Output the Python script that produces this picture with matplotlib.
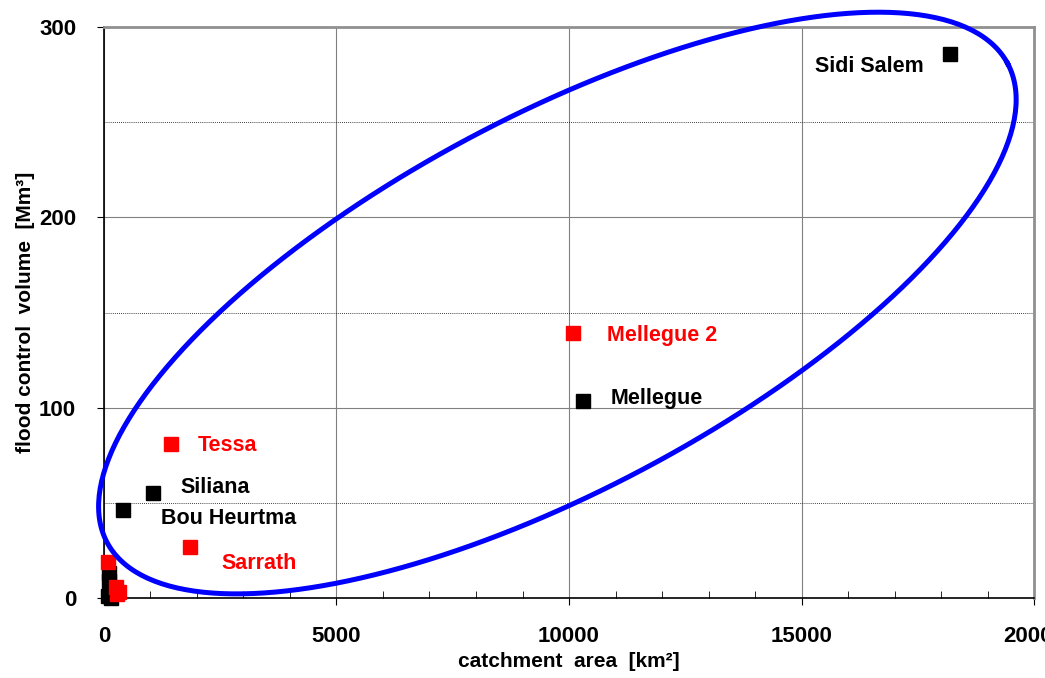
import numpy as np
import matplotlib
matplotlib.use("Agg")
import matplotlib.pyplot as plt
from matplotlib.ticker import MultipleLocator

plt.rcParams['font.family'] = ['Liberation Sans', 'DejaVu Sans']
plt.rcParams['font.weight'] = 'bold'

# named dams (catchment area km2, flood control volume Mm3)
black_names = ['Sidi Salem', 'Mellegue', 'Siliana', 'Bou Heurtma']
black_area = [18200, 10300, 1050, 410]
black_vol = [286, 103.5, 55, 46]

red_names = ['Mellegue 2', 'Tessa', 'Sarrath']
red_area = [10090, 1440, 1850]
red_vol = [139, 81, 27]

# small unnamed dams near origin
small_black_area = [100, 110, 90, 150]
small_black_vol = [13, 9, 1, 0]
small_red_area = [80, 250, 320, 290]
small_red_vol = [19, 6, 3, 2]

# label offsets in pixels (dx, dy, ha)
black_offsets = [(-27, -13, 'right'), (28, 3, 'left'), (28, 6, 'left'), (38, -8, 'left')]
red_offsets = [(34, -2, 'left'), (27, -2, 'left'), (31, -17, 'left')]

# highlight ellipse (centre in data units, axes in pixels, angle deg)
ell_cx, ell_cy = 9750, 155
ell_a, ell_b, ell_ang = 510, 187, 28

fig = plt.figure(figsize=(10.45, 6.78), dpi=100)
ax = fig.add_axes([0.0995, 0.118, 0.89, 0.842])

ax.set_xlim(0, 20000)
ax.set_ylim(0, 300)

ax.xaxis.set_major_locator(MultipleLocator(5000))
ax.xaxis.set_minor_locator(MultipleLocator(1000))
ax.yaxis.set_major_locator(MultipleLocator(100))
ax.yaxis.set_minor_locator(MultipleLocator(50))

ax.grid(True, which='major', color='#808080', lw=0.8)
ax.grid(True, which='minor', axis='y', color='black', lw=0.6, ls=(0, (1, 1.5)))
ax.set_axisbelow(True)

ax.tick_params(which='major', direction='out', length=5, labelsize=16)
ax.tick_params(axis='x', which='major', pad=15)
ax.tick_params(axis='y', which='major', pad=15)
ax.tick_params(which='minor', axis='x', direction='in', length=5)
ax.tick_params(which='minor', axis='y', length=0)
for lab in ax.get_xticklabels() + ax.get_yticklabels():
    lab.set_fontweight('bold')

ax.spines['left'].set_color('black')
ax.spines['bottom'].set_color('black')
ax.spines['left'].set_linewidth(1.2)
ax.spines['bottom'].set_linewidth(1.2)
ax.spines['top'].set_color('#909090')
ax.spines['right'].set_color('#909090')
ax.spines['top'].set_linewidth(2)
ax.spines['right'].set_linewidth(2)

ax.set_xlabel('catchment  area  [km²]', fontsize=15, fontweight='bold', labelpad=4)
ax.set_ylabel('flood control  volume  [Mm³]', fontsize=15, fontweight='bold', labelpad=3)

ax.plot(small_black_area, small_black_vol, 's', color='black', ms=9.5, clip_on=False, zorder=3)
ax.plot(small_red_area, small_red_vol, 's', color='red', ms=9.5, clip_on=False, zorder=4)
ax.plot(black_area, black_vol, 's', color='black', ms=9.5, zorder=3)
ax.plot(red_area, red_vol, 's', color='red', ms=9.5, zorder=3)

for n, x, y, (dx, dy, ha) in zip(black_names, black_area, black_vol, black_offsets):
    ax.annotate(n, (x, y), xytext=(dx, dy), textcoords='offset pixels', ha=ha, va='center',
                fontsize=15.5, fontweight='bold', color='black')
for n, x, y, (dx, dy, ha) in zip(red_names, red_area, red_vol, red_offsets):
    ax.annotate(n, (x, y), xytext=(dx, dy), textcoords='offset pixels', ha=ha, va='center',
                fontsize=15.5, fontweight='bold', color='red')

# ellipse drawn in pixel space around data centre
fig.canvas.draw()
t = np.linspace(0, 2 * np.pi, 400)
th = np.deg2rad(ell_ang)
cx, cy = ax.transData.transform((ell_cx, ell_cy))
px = cx + ell_a * np.cos(t) * np.cos(th) - ell_b * np.sin(t) * np.sin(th)
py = cy + ell_a * np.cos(t) * np.sin(th) + ell_b * np.sin(t) * np.cos(th)
ex, ey = ax.transData.inverted().transform(np.column_stack([px, py])).T
ax.plot(ex, ey, color='#0000FF', lw=3.6, clip_on=False, zorder=5)

fig.savefig('out.png', dpi=100)
